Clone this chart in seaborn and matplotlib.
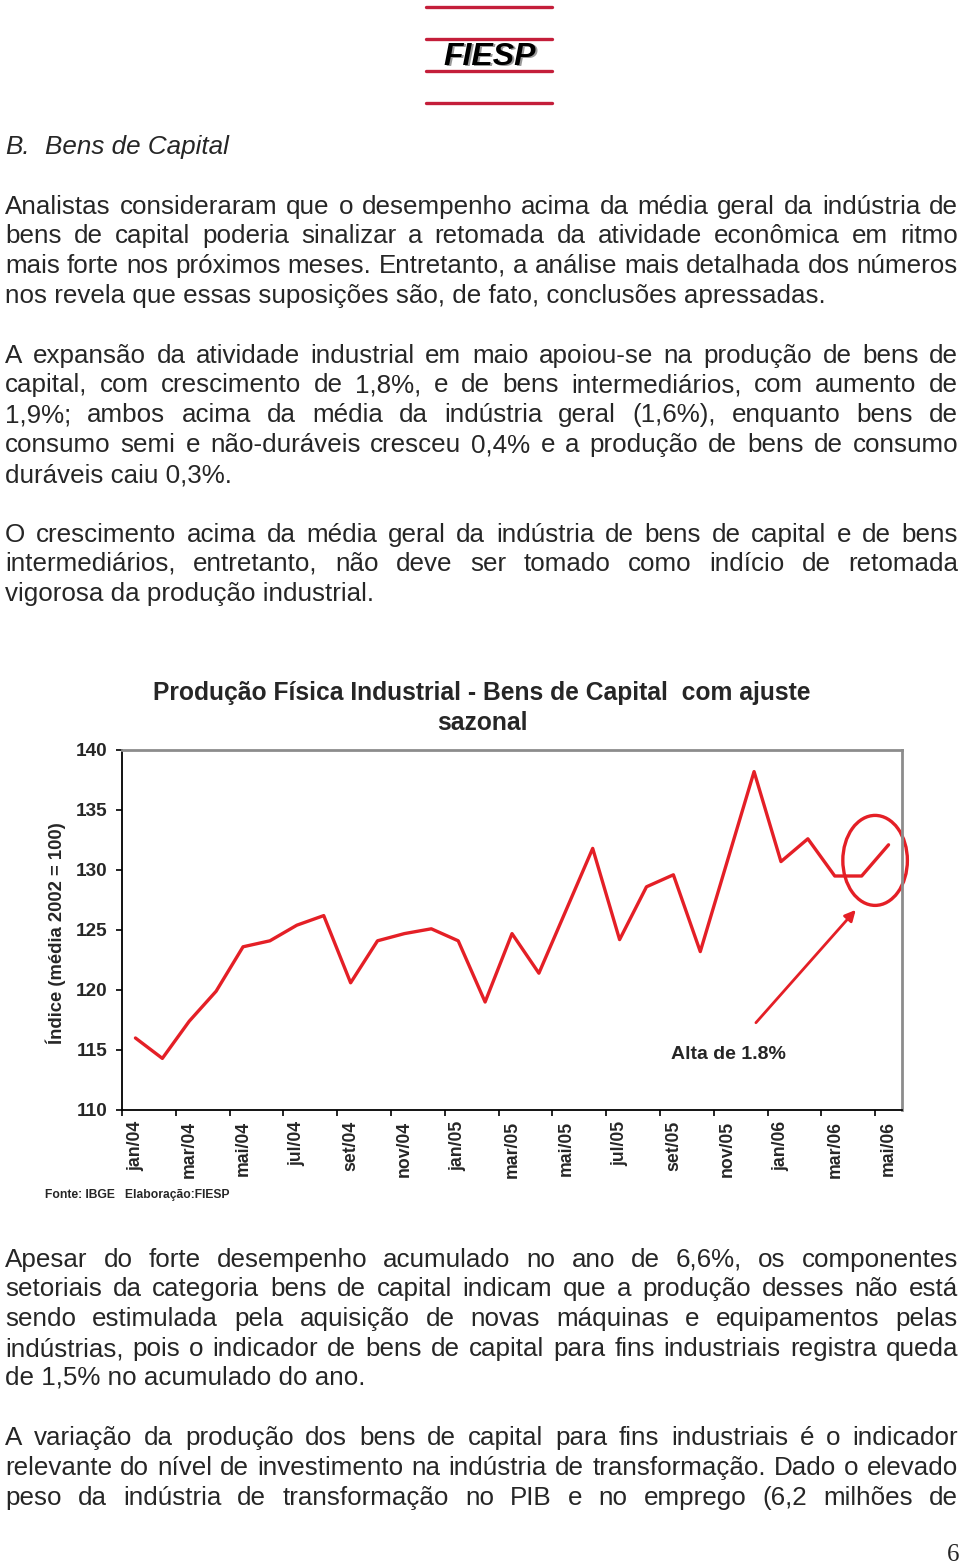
import numpy as np
import pandas as pd
import seaborn as sns
import matplotlib.pyplot as plt
from matplotlib.patches import Ellipse
from matplotlib.lines import Line2D

# dados do grafico (indice com ajuste sazonal, media 2002 = 100)
meses = ['jan/04', 'fev/04', 'mar/04', 'abr/04', 'mai/04', 'jun/04', 'jul/04', 'ago/04',
         'set/04', 'out/04', 'nov/04', 'dez/04', 'jan/05', 'fev/05', 'mar/05', 'abr/05',
         'mai/05', 'jun/05', 'jul/05', 'ago/05', 'set/05', 'out/05', 'nov/05', 'dez/05',
         'jan/06', 'fev/06', 'mar/06', 'abr/06', 'mai/06']
indice = [116.0, 114.3, 117.4, 119.9, 123.6, 124.1, 125.4, 126.2, 120.6, 124.1,
          124.7, 125.1, 124.1, 119.0, 124.7, 121.4, 126.6, 131.8, 124.2, 128.6,
          129.6, 123.2, 130.7, 138.2, 130.7, 132.6, 129.5, 129.5, 132.1]
rotulos_x = meses[::2]
ticks_y = [110, 115, 120, 125, 130, 135, 140]

# texto da pagina
paragrafos = [
    [("Analistas consideraram que o desempenho acima da média geral da indústria de", 205, True),
     ("bens de capital poderia sinalizar a retomada da atividade econômica em ritmo", 234, True),
     ("mais forte nos próximos meses. Entretanto, a análise mais detalhada dos números", 264, True),
     ("nos revela que essas suposições são, de fato, conclusões apressadas.", 294, False)],
    [("A expansão da atividade industrial em maio apoiou-se na produção de bens de", 354, True),
     ("capital, com crescimento de 1,8%, e de bens intermediários, com aumento de", 383, True),
     ("1,9%; ambos acima da média da indústria geral (1,6%), enquanto bens de", 413, True),
     ("consumo semi e não-duráveis cresceu 0,4% e a produção de bens de consumo", 443, True),
     ("duráveis caiu 0,3%.", 473, False)],
    [("O crescimento acima da média geral da indústria de bens de capital e de bens", 533, True),
     ("intermediários, entretanto, não deve ser tomado como indício de retomada", 562, True),
     ("vigorosa da produção industrial.", 592, False)],
    [("Apesar do forte desempenho acumulado no ano de 6,6%, os componentes", 1258, True),
     ("setoriais da categoria bens de capital indicam que a produção desses não está", 1287, True),
     ("sendo estimulada pela aquisição de novas máquinas e equipamentos pelas", 1317, True),
     ("indústrias, pois o indicador de bens de capital para fins industriais registra queda", 1347, True),
     ("de 1,5% no acumulado do ano.", 1376, False)],
    [("A variação da produção dos bens de capital para fins industriais é o indicador", 1436, True),
     ("relevante do nível de investimento na indústria de transformação. Dado o elevado", 1466, True),
     ("peso da indústria de transformação no PIB e no emprego (6,2 milhões de", 1496, True)],
]

sns.set_style('ticks')
plt.rcParams['font.family'] = ['Liberation Sans', 'DejaVu Sans']

W, H = 960, 1565
fig = plt.figure(figsize=(W / 100, H / 100), dpi=100)
renderer = fig.canvas.get_renderer()


def fx(x):
    return x / W


def fy(y):
    # +2 px: va='center' fica um pouco acima do centro visual da linha
    return 1 - (y + 2) / H


# logo FIESP
vermelho_logo = '#c41e3a'
for y in [7, 39, 71, 103]:
    fig.add_artist(Line2D([fx(426), fx(552)], [1 - y / H, 1 - y / H], color=vermelho_logo, lw=2.4))
fig.text(fx(491.5), fy(56.5), 'FIESP', fontsize=23, fontweight='bold', fontstyle='italic',
         ha='center', va='center', color='#9a9a9a')
fig.text(fx(490), fy(55), 'FIESP', fontsize=23, fontweight='bold', fontstyle='italic',
         ha='center', va='center', color='black')

# titulo da secao
fig.text(fx(5), fy(145), 'B.', fontsize=18.7, fontstyle='italic', va='center')
fig.text(fx(45), fy(145), 'Bens de Capital', fontsize=18.7, fontstyle='italic', va='center')


def linha(texto, y, justificar, x0=5, x1=958):
    if not justificar:
        fig.text(fx(x0), fy(y), texto, fontsize=18.7, va='center')
        return
    palavras = texto.split(' ')
    objs = [fig.text(0, fy(y), p, fontsize=18.7, va='center') for p in palavras]
    larguras = [o.get_window_extent(renderer).width for o in objs]
    gap = (x1 - x0 - sum(larguras)) / (len(objs) - 1)
    x = x0
    for o, w in zip(objs, larguras):
        o.set_x(fx(x))
        x += w + gap


for par in paragrafos:
    for texto, y, just in par:
        linha(texto, y, just)

# grafico
ax = fig.add_axes([fx(122), 1 - 1110 / H, 780 / W, 360 / H])
df = pd.DataFrame({'pos': np.arange(len(meses)), 'indice': indice})
vermelho = '#e41f26'
sns.lineplot(data=df, x='pos', y='indice', color=vermelho, linewidth=2.4, ax=ax)

ax.set_xlim(-0.5, len(meses) - 0.5)
ax.set_ylim(110, 140)
ax.set_yticks(ticks_y)
ax.set_yticklabels([str(t) for t in ticks_y], fontweight='bold', fontsize=13.7)
ax.set_xticks(np.arange(0, len(meses), 2))
ax.set_xticklabels(rotulos_x, rotation=90, fontweight='bold', fontsize=12.7)
ax.set_xticks(np.arange(-0.5, len(meses) - 1, 2), minor=True)
ax.tick_params(axis='x', which='major', length=0, pad=8)
ax.tick_params(axis='x', which='minor', length=4.5, width=1.2, color='black', bottom=True)
ax.tick_params(axis='y', length=4.5, width=1.2, pad=6, color='black')
ax.set_xlabel('')
ax.set_ylabel('')

for lado in ['left', 'bottom']:
    ax.spines[lado].set_color('black')
    ax.spines[lado].set_linewidth(1.3)
for lado in ['top', 'right']:
    ax.spines[lado].set_visible(True)
    ax.spines[lado].set_color('#8c8c8c')
    ax.spines[lado].set_linewidth(2)

# destaque: circulo e seta
ax.add_patch(Ellipse((27.5, 130.8), 2.4, 7.5, fill=False, edgecolor=vermelho, lw=2.4, clip_on=False))
ax.annotate('', xy=(26.85, 126.85), xytext=(23.0, 117.1),
            arrowprops=dict(arrowstyle='-|>', color=vermelho, lw=2, mutation_scale=16))
ax.text(19.9, 114.6, 'Alta de 1.8%', fontweight='bold', fontsize=14, va='center')

fig.text(fx(482), fy(691), 'Produção Física Industrial - Bens de Capital  com ajuste',
         ha='center', va='center', fontsize=17.7, fontweight='bold')
fig.text(fx(482), fy(721), 'sazonal', ha='center', va='center', fontsize=17.7, fontweight='bold')
fig.text(fx(56), fy(931), 'Índice (média 2002 = 100)', rotation=90, ha='center', va='center',
         fontsize=13.3, fontweight='bold')
fig.text(fx(45), fy(1193), 'Fonte: IBGE   Elaboração:FIESP', fontsize=8.7, fontweight='bold', va='center')

# numero da pagina
fig.text(fx(953), fy(1553), '6', family='Liberation Serif', fontsize=18, ha='center', va='center')

fig.savefig('out.png', dpi=100)
